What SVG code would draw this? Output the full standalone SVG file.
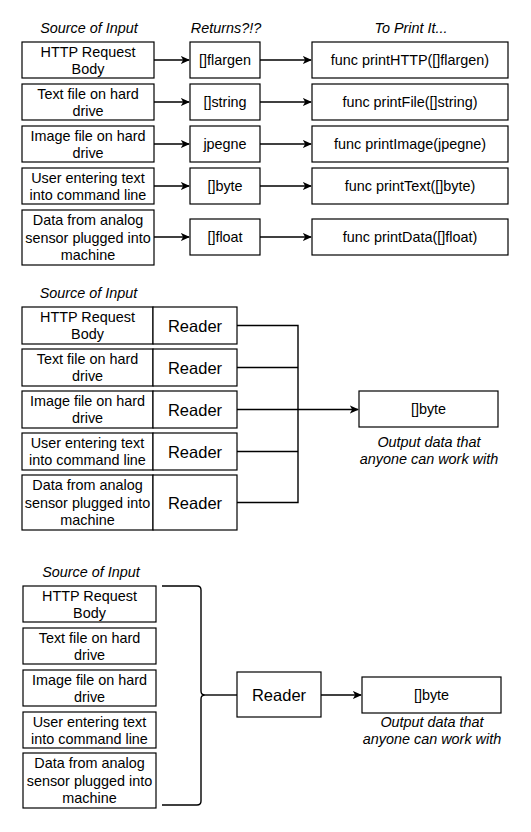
<svg xmlns="http://www.w3.org/2000/svg" width="531" height="832" viewBox="0 0 531 832">
<style>
text{font-family:"Liberation Sans",Arial,Helvetica,sans-serif;font-size:14.4px;fill:#000;text-anchor:middle}
.i{font-style:italic}
.rd{font-size:16.5px}
.b{fill:#fff;stroke:#000;stroke-width:1.2}
.c{fill:none;stroke:#000;stroke-width:1.4}
</style>
<defs>
<marker id="a" viewBox="0 0 10 10" refX="9" refY="5" markerWidth="9" markerHeight="9" markerUnits="userSpaceOnUse" orient="auto">
<path d="M0,0.5 L10,5 L0,9.5 L2.5,5 Z" fill="#000"/>
</marker>
</defs>
<rect width="531" height="832" fill="#fff"/>

<!-- Section 1 headers -->
<text class="i" x="89" y="33">Source of Input</text>
<text class="i" x="226" y="33">Returns?!?</text>
<text class="i" x="411" y="33">To Print It...</text>

<g id="s1-src1"><rect class="b" x="22" y="42" width="132" height="36"/><text x="88" y="56.6">HTTP Request</text><text x="88" y="73.9">Body</text></g>
<g id="s1-src2"><rect class="b" x="22" y="84" width="132" height="36"/><text x="88" y="98.6">Text file on hard</text><text x="88" y="115.9">drive</text></g>
<g id="s1-src3"><rect class="b" x="22" y="126" width="132" height="36"/><text x="88" y="140.6">Image file on hard</text><text x="88" y="157.9">drive</text></g>
<g id="s1-src4"><rect class="b" x="22" y="168" width="132" height="36"/><text x="88" y="182.6">User entering text</text><text x="88" y="199.9">into command line</text></g>
<g id="s1-src5"><rect class="b" x="22" y="210" width="132" height="55"/><text x="88" y="225.4">Data from analog</text><text x="88" y="242.7">sensor plugged into</text><text x="88" y="260">machine</text></g>

<g id="s1-ret1"><rect class="b" x="190" y="42" width="70" height="36"/><text x="225" y="65.2">[]flargen</text></g>
<g id="s1-ret2"><rect class="b" x="190" y="84" width="70" height="36"/><text x="225" y="107.2">[]string</text></g>
<g id="s1-ret3"><rect class="b" x="190" y="126" width="70" height="36"/><text x="225" y="149.2">jpegne</text></g>
<g id="s1-ret4"><rect class="b" x="190" y="168" width="70" height="36"/><text x="225" y="191.2">[]byte</text></g>
<g id="s1-ret5"><rect class="b" x="190" y="219" width="70" height="36"/><text x="225" y="242.2">[]float</text></g>

<g id="s1-prn1"><rect class="b" x="312" y="42" width="196" height="36"/><text x="410" y="65.2">func printHTTP([]flargen)</text></g>
<g id="s1-prn2"><rect class="b" x="312" y="84" width="196" height="36"/><text x="410" y="107.2">func printFile([]string)</text></g>
<g id="s1-prn3"><rect class="b" x="312" y="126" width="196" height="36"/><text x="410" y="149.2">func printImage(jpegne)</text></g>
<g id="s1-prn4"><rect class="b" x="312" y="168" width="196" height="36"/><text x="410" y="191.2">func printText([]byte)</text></g>
<g id="s1-prn5"><rect class="b" x="312" y="219" width="196" height="36"/><text x="410" y="242.2">func printData([]float)</text></g>

<!-- Section 2 -->
<text class="i" x="88.5" y="298">Source of Input</text>
<g id="s2-row1"><rect class="b" x="22" y="307" width="131" height="37"/><rect class="b" x="153" y="307" width="84" height="37"/><text x="87.5" y="322">HTTP Request</text><text x="87.5" y="339.3">Body</text><text class="rd" x="195" y="331.5">Reader</text></g>
<g id="s2-row2"><rect class="b" x="22" y="349" width="131" height="37"/><rect class="b" x="153" y="349" width="84" height="37"/><text x="87.5" y="364">Text file on hard</text><text x="87.5" y="381.3">drive</text><text class="rd" x="195" y="373.5">Reader</text></g>
<g id="s2-row3"><rect class="b" x="22" y="391" width="131" height="37"/><rect class="b" x="153" y="391" width="84" height="37"/><text x="87.5" y="406">Image file on hard</text><text x="87.5" y="423.3">drive</text><text class="rd" x="195" y="415.5">Reader</text></g>
<g id="s2-row4"><rect class="b" x="22" y="433" width="131" height="37"/><rect class="b" x="153" y="433" width="84" height="37"/><text x="87.5" y="448">User entering text</text><text x="87.5" y="465.3">into command line</text><text class="rd" x="195" y="457.5">Reader</text></g>
<g id="s2-row5"><rect class="b" x="22" y="475" width="131" height="55"/><rect class="b" x="153" y="475" width="84" height="55"/><text x="87.5" y="490.4">Data from analog</text><text x="87.5" y="507.7">sensor plugged into</text><text x="87.5" y="525">machine</text><text class="rd" x="195" y="508.5">Reader</text></g>
<g id="s2-out"><rect class="b" x="359" y="391" width="139" height="36"/><text x="428.5" y="414.2">[]byte</text><text class="i" x="429" y="446.5">Output data that</text><text class="i" x="429" y="463.8">anyone can work with</text></g>

<!-- Section 3 -->
<text class="i" x="91" y="577">Source of Input</text>
<g id="s3-src1"><rect class="b" x="23" y="586" width="133" height="36"/><text x="89.5" y="600.6">HTTP Request</text><text x="89.5" y="617.9">Body</text></g>
<g id="s3-src2"><rect class="b" x="23" y="628" width="133" height="36"/><text x="89.5" y="642.6">Text file on hard</text><text x="89.5" y="659.9">drive</text></g>
<g id="s3-src3"><rect class="b" x="23" y="670" width="133" height="36"/><text x="89.5" y="684.6">Image file on hard</text><text x="89.5" y="701.9">drive</text></g>
<g id="s3-src4"><rect class="b" x="23" y="712" width="133" height="36"/><text x="89.5" y="726.6">User entering text</text><text x="89.5" y="743.9">into command line</text></g>
<g id="s3-src5"><rect class="b" x="23" y="753" width="133" height="55"/><text x="89.5" y="768.4">Data from analog</text><text x="89.5" y="785.7">sensor plugged into</text><text x="89.5" y="803">machine</text></g>
<g id="s3-reader"><rect class="b" x="237" y="672" width="84" height="45"/><text class="rd" x="279" y="700.5">Reader</text></g>
<g id="s3-out"><rect class="b" x="362" y="677" width="139" height="36"/><text x="431.5" y="700.2">[]byte</text><text class="i" x="432" y="727">Output data that</text><text class="i" x="432" y="744.3">anyone can work with</text></g>
<g id="s3-brace"><path class="c" d="M162,586 H197 Q201,586 201,590 V691 Q201,695 205,695 Q201,695 201,699 V801 Q201,805 197,805 H162"/></g>

<g id="connectors">
<line class="c" x1="154" y1="60" x2="189" y2="60" marker-end="url(#a)"/>
<line class="c" x1="154" y1="102" x2="189" y2="102" marker-end="url(#a)"/>
<line class="c" x1="154" y1="144" x2="189" y2="144" marker-end="url(#a)"/>
<line class="c" x1="154" y1="186" x2="189" y2="186" marker-end="url(#a)"/>
<line class="c" x1="154" y1="237" x2="189" y2="237" marker-end="url(#a)"/>
<line class="c" x1="260" y1="60" x2="311" y2="60" marker-end="url(#a)"/>
<line class="c" x1="260" y1="102" x2="311" y2="102" marker-end="url(#a)"/>
<line class="c" x1="260" y1="144" x2="311" y2="144" marker-end="url(#a)"/>
<line class="c" x1="260" y1="186" x2="311" y2="186" marker-end="url(#a)"/>
<line class="c" x1="260" y1="237" x2="311" y2="237" marker-end="url(#a)"/>
<path class="c" d="M237,325.5 H298 V502.5 H237"/>
<line class="c" x1="237" y1="367.5" x2="298" y2="367.5"/>
<line class="c" x1="237" y1="409.5" x2="298" y2="409.5"/>
<line class="c" x1="237" y1="451.5" x2="298" y2="451.5"/>
<line class="c" x1="298" y1="409.5" x2="358" y2="409.5" stroke-width="2.4" marker-end="url(#a)"/>
<line class="c" x1="205" y1="695" x2="237" y2="695"/>
<line class="c" x1="321" y1="695" x2="361" y2="695" marker-end="url(#a)"/>
</g>
</svg>
